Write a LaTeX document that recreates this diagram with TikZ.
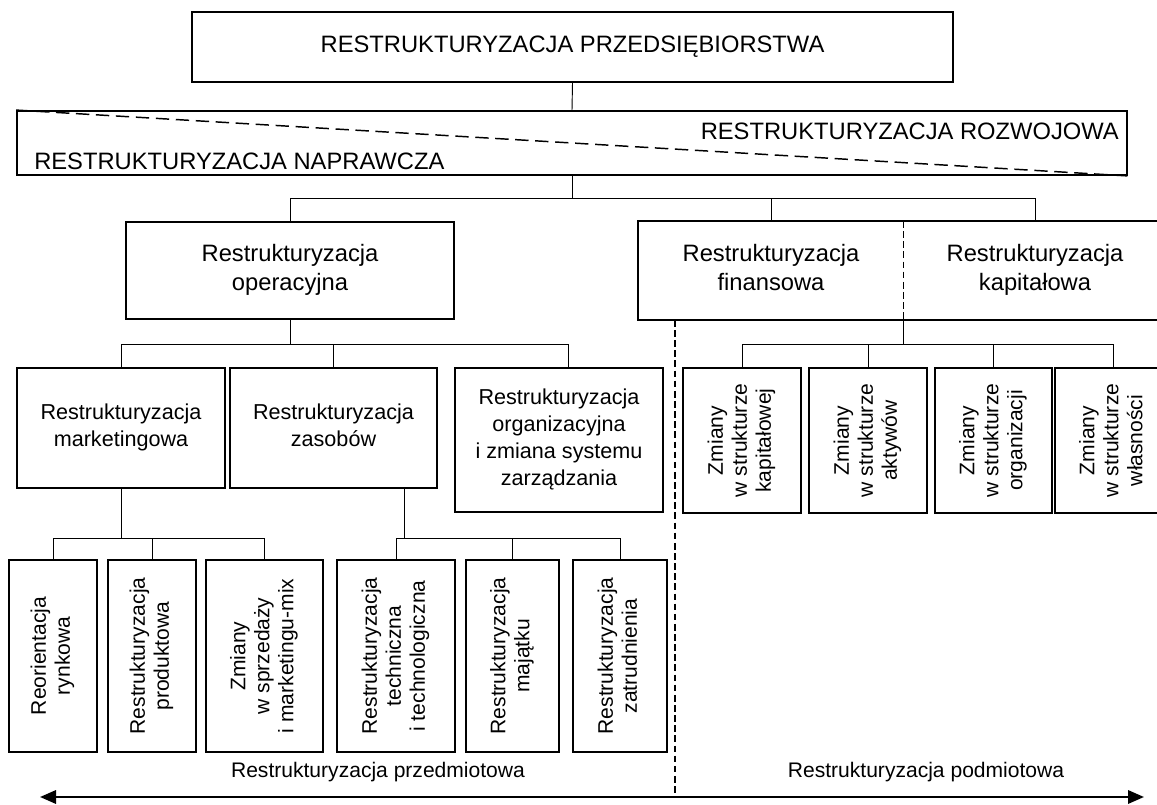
\documentclass[tikz,border=0pt]{standalone}
\usepackage{fontspec}
\setmainfont{Liberation Sans}
\usepackage{graphicx}
\usetikzlibrary{arrows.meta,calc}
\newcommand{\vtext}[1]{\rotatebox{90}{\begin{tabular}{@{}c@{}}#1\end{tabular}}}
% \bx[options]{name}{x1}{y1}{x2}{y2}{text}
\newcommand{\bx}[7][]{%
  \pgfmathsetmacro\bxw{(#5-#3)*0.75}%
  \pgfmathsetmacro\bxh{(#6-#4)*0.75}%
  \node[box,#1,minimum width=\bxw pt,minimum height=\bxh pt] (#2) at ({(#3+#5)/2},{(#4+#6)/2}) {#7};}
\begin{document}
\begin{tikzpicture}[x=0.75pt,y=-0.75pt,
  box/.style={draw, line width=1.4pt, inner sep=0pt, align=center},
  plain/.style={inner sep=0pt, align=center},
  conn/.style={line width=0.7pt},
  boxline/.style={line width=1.4pt},
  diagdash/.style={line width=1.1pt, dash pattern=on 10pt off 5pt},
  vdash/.style={line width=0.8pt, dash pattern=on 5pt off 2.6pt},
  fbig/.style={font=\fontsize{17.8}{21.8}\selectfont},
  fmid/.style={font=\fontsize{16.2}{20.2}\selectfont},
  fsm/.style={font=\fontsize{15.8}{18}\selectfont},
  fcap/.style={font=\fontsize{15.8}{18}\selectfont},
]
\useasboundingbox (0,0) rectangle (1157,805);
\clip (0,0) rectangle (1157,805);

% level 0 and 1
\bx[fbig]{title}{192}{12}{953}{82}{RESTRUKTURYZACJA PRZEDSIĘBIORSTWA}
\bx{second}{17}{111}{1127}{175}{}
\draw[diagdash] (second.north west) -- (second.south east);
\node[plain, fbig, anchor=east] (rozw) at (1119,131) {RESTRUKTURYZACJA ROZWOJOWA};
\node[plain, fbig, anchor=west] (napr) at (34,161) {RESTRUKTURYZACJA NAPRAWCZA};

% level 2
\bx[fbig]{oper}{126}{222}{454}{319}{\strut Restrukturyzacja\\operacyjna\strut}
\bx[fbig, draw=none]{fin}{639}{222}{903}{319}{\strut Restrukturyzacja\\finansowa\strut}
\bx[fbig, draw=none]{kap}{903}{222}{1167}{319}{\strut Restrukturyzacja\\kapitałowa\strut}
\draw[boxline] (fin.north west) rectangle (kap.south east);
\draw[vdash] (fin.north east) -- (fin.south east);

% level 3 left
\bx[fmid]{mark}{17}{368}{225}{488}{\strut Restrukturyzacja\\marketingowa\strut}
\bx[fmid]{zas}{230}{368}{437}{488}{\strut Restrukturyzacja\\zasobów\strut}
\bx[fmid]{org}{455}{368}{663}{512}{\strut Restrukturyzacja\\organizacyjna\\i zmiana systemu\\zarządzania\strut}

% level 3 right
\bx[fsm]{ra}{683}{368}{801}{513}{\vtext{Zmiany\\w strukturze\\kapitałowej}}
\bx[fsm]{rb}{809}{368}{927}{513}{\vtext{Zmiany\\w strukturze\\aktywów}}
\bx[fsm]{rc}{935}{368}{1052}{513}{\vtext{Zmiany\\w strukturze\\organizacji}}
\bx[fsm]{rd}{1055}{368}{1172}{513}{\vtext{Zmiany\\w strukturze\\własności}}

% level 4
\bx[fsm]{m1}{9}{560}{97}{752}{\vtext{Reorientacja\\rynkowa}}
\bx[fsm]{m2}{108}{560}{196}{752}{\vtext{Restrukturyzacja\\produktowa}}
\bx[fsm]{m3}{206}{560}{323}{752}{\vtext{Zmiany\\w sprzedaży\\i marketingu-mix}}
\bx[fsm]{z1}{337}{560}{455}{752}{\vtext{Restrukturyzacja\\techniczna\\i technologiczna}}
\bx[fsm]{z2}{466}{560}{559}{752}{\vtext{Restrukturyzacja\\majątku}}
\bx[fsm]{z3}{573}{560}{667}{752}{\vtext{Restrukturyzacja\\zatrudnienia}}

% connectors
\coordinate (b1) at (0,198);
\coordinate (b2) at (0,344);
\coordinate (b3) at (0,538);
\coordinate (zd) at (404,538);
\coordinate (od) at (568,344);
\draw[conn] (title.south) -- (second.north);
\draw[conn] (second.south) -- (second.south |- b1);
\draw[conn] (oper.north) |- (kap.north |- b1) -- (kap.north);
\draw[conn] (fin.north) -- (fin.north |- b1);

\draw[conn] (oper.south) -- (oper.south |- b2);
\draw[conn] (mark.north) |- (od) -- (od |- org.north);
\draw[conn] (zas.north) -- (zas.north |- b2);

\draw[conn] (fin.south east) -- (fin.south east |- b2);
\draw[conn] (ra.north) |- (rd.north |- b2) -- (rd.north);
\draw[conn] (rb.north) -- (rb.north |- b2);
\draw[conn] (rc.north) -- (rc.north |- b2);

\draw[conn] (mark.south) -- (mark.south |- b3);
\draw[conn] (m1.north) |- (m3.north |- b3) -- (m3.north);
\draw[conn] (m2.north) -- (m2.north |- b3);

\draw[conn] (zd |- zas.south) -- (zd);
\draw[conn] (z1.north) |- (z3.north |- b3) -- (z3.north);
\draw[conn] (z2.north) -- (z2.north |- b3);

% bottom
\coordinate (arrL) at (40,797);
\coordinate (arrR) at (1144,797);
\coordinate (sep) at (675,797);
\draw[vdash] (sep |- fin.south) -- (sep);
\draw[line width=1.7pt, {Triangle[length=12pt,width=10pt]}-{Triangle[length=12pt,width=10pt]}] (arrL) -- (arrR);
\node[plain, fcap] (przed) at (378,772) {Restrukturyzacja przedmiotowa};
\node[plain, fcap] (podm) at (926,772) {Restrukturyzacja podmiotowa};
\end{tikzpicture}
\end{document}
